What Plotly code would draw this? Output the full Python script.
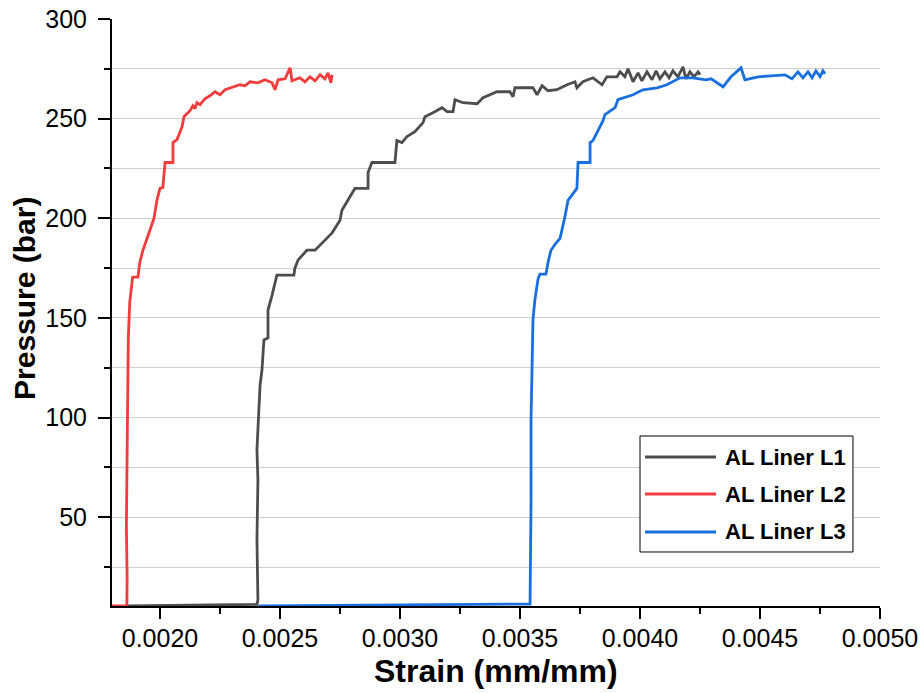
import plotly.graph_objects as go

# Pressure test curves for three aluminium liners: strain (mm/mm) vs pressure (bar)
l1_strain = [0.001860, 0.002100, 0.002404, 0.002408, 0.002404, 0.002408, 0.002404, 0.002408,
             0.002412, 0.002417, 0.002425, 0.002429, 0.002433, 0.002450, 0.002450, 0.002467,
             0.002487, 0.002558, 0.002562, 0.002575, 0.002612, 0.002646, 0.002667, 0.002696,
             0.002717, 0.002750, 0.002758, 0.002771, 0.002812, 0.002867, 0.002867, 0.002883,
             0.002979, 0.002987, 0.003008, 0.003029, 0.003062, 0.003096, 0.003104, 0.003137,
             0.003175, 0.003196, 0.003221, 0.003229, 0.003262, 0.003321, 0.003346, 0.003404,
             0.003458, 0.003471, 0.003479, 0.003554, 0.003571, 0.003592, 0.003617, 0.003654,
             0.003696, 0.003729, 0.003737, 0.003762, 0.003804, 0.003842, 0.003862, 0.003904,
             0.003917, 0.003937, 0.003950, 0.003971, 0.003992, 0.004008, 0.004029, 0.004050,
             0.004067, 0.004083, 0.004104, 0.004121, 0.004137, 0.004158, 0.004179, 0.004192,
             0.004208, 0.004225, 0.004242, 0.004250]
l1_pressure = [5.6, 5.9, 6.3, 8.5, 38.6, 68.7, 83.8, 94,
               109, 116.4, 124, 134, 139, 140, 154, 161.5,
               171.5, 171.5, 175, 179, 184, 184, 186.5, 190,
               192.7, 199, 204, 206.7, 215, 215, 223, 228,
               228, 239, 238, 241, 243.5, 248, 251, 253,
               255.5, 253.5, 253.5, 259.5, 258, 257.5, 260.5, 263.5,
               263.5, 261, 265.5, 265.5, 262, 266.5, 264, 264.5,
               267, 268.5, 265.5, 268.5, 270.5, 267, 271, 271,
               273.5, 271, 275, 268.5, 273, 269, 273.5, 269.5,
               274, 270, 273.5, 270.5, 274, 271, 276, 270,
               273.5, 271, 273.5, 272]

l2_strain = [0.001800, 0.001862, 0.001863, 0.001860, 0.001862, 0.001864, 0.001866, 0.001868,
             0.001874, 0.001886, 0.001908, 0.001916, 0.001929, 0.001950, 0.001962, 0.001975,
             0.001987, 0.002000, 0.002012, 0.002017, 0.002021, 0.002054, 0.002054, 0.002071,
             0.002092, 0.002100, 0.002112, 0.002125, 0.002137, 0.002146, 0.002154, 0.002167,
             0.002187, 0.002208, 0.002229, 0.002250, 0.002271, 0.002304, 0.002333, 0.002354,
             0.002375, 0.002408, 0.002437, 0.002467, 0.002479, 0.002492, 0.002521, 0.002542,
             0.002550, 0.002583, 0.002604, 0.002625, 0.002646, 0.002667, 0.002687, 0.002700,
             0.002712, 0.002717]
l2_pressure = [5.6, 5.6, 20, 45, 70, 95, 120, 140,
               158, 170.5, 170.5, 178, 184, 191, 196, 200,
               209, 215, 215.5, 222, 228, 228, 238, 239.5,
               246, 251, 252.5, 254, 256.5, 255, 258, 257,
               260, 261.5, 263.5, 262, 264.5, 266, 267, 266.5,
               268.5, 268, 269.5, 268, 264.5, 269.5, 270, 275.5,
               269, 270.5, 268.5, 271, 269, 272, 270, 273,
               268, 272]

l3_strain = [0.002410, 0.003000, 0.003542, 0.003542, 0.003546, 0.003546, 0.003550, 0.003554,
             0.003562, 0.003571, 0.003575, 0.003583, 0.003608, 0.003617, 0.003629, 0.003646,
             0.003667, 0.003687, 0.003700, 0.003737, 0.003742, 0.003792, 0.003792, 0.003804,
             0.003825, 0.003846, 0.003854, 0.003883, 0.003896, 0.003908, 0.003946, 0.003971,
             0.004012, 0.004071, 0.004112, 0.004167, 0.004221, 0.004275, 0.004296, 0.004346,
             0.004379, 0.004421, 0.004437, 0.004492, 0.004546, 0.004604, 0.004633, 0.004658,
             0.004679, 0.004700, 0.004717, 0.004733, 0.004750, 0.004762, 0.004771]
l3_pressure = [5.6, 5.9, 6.5, 8, 58, 99, 129, 149,
               159, 166.5, 169.5, 172, 172, 178, 184, 187,
               190, 200.7, 209, 215, 228, 228, 238, 239,
               244, 249, 252, 254.5, 255.5, 259.5, 261, 262,
               264.5, 265.5, 267, 270.5, 270.5, 269.5, 270, 266,
               271, 275.5, 269.5, 271, 271.5, 272, 270, 273.5,
               270.5, 273.5, 270.5, 274, 271, 274, 272.5]

series_names = ["AL Liner L1", "AL Liner L2", "AL Liner L3"]
series_colors = ["#4D4D4D", "#F03C3C", "#1A6FDF"]
series_data = [(l1_strain, l1_pressure), (l2_strain, l2_pressure), (l3_strain, l3_pressure)]

x_ticks = [0.0020, 0.0025, 0.0030, 0.0035, 0.0040, 0.0045, 0.0050]
x_labels = ["0.0020", "0.0025", "0.0030", "0.0035", "0.0040", "0.0045", "0.0050"]

FONT = "Liberation Sans, Arial, sans-serif"
GRID = "#D0D0D0"

fig = go.Figure()
for name, color, (xs, ys) in zip(series_names, series_colors, series_data):
    fig.add_trace(go.Scatter(x=xs, y=ys, mode="lines", name=name,
                             line=dict(color=color, width=2.8), showlegend=False))

fig.update_layout(
    width=924, height=693, autosize=False,
    margin=dict(l=112, r=44, t=19, b=87, autoexpand=False),
    paper_bgcolor="white", plot_bgcolor="white",
    font=dict(family=FONT, color="black"),
    xaxis=dict(
        range=[0.0018, 0.0050], tickmode="array", tickvals=x_ticks, ticktext=x_labels,
        ticks="outside", ticklen=11, tickwidth=2, tickcolor="black",
        minor=dict(tickmode="array",
                   tickvals=[0.00225, 0.00275, 0.00325, 0.00375, 0.00425, 0.00475],
                   ticks="outside", ticklen=6, tickwidth=2, tickcolor="black"),
        showgrid=False, zeroline=False, showline=True, linewidth=2, linecolor="black",
        tickfont=dict(size=25), ticklabelstandoff=-2, automargin=False,
    ),
    yaxis=dict(
        range=[5.5, 300], tickmode="linear", tick0=0, dtick=50,
        ticks="outside", ticklen=12, tickwidth=2, tickcolor="black",
        minor=dict(dtick=25, ticks="outside", ticklen=6, tickwidth=2, tickcolor="black",
                   showgrid=True, gridcolor=GRID, gridwidth=1),
        showgrid=True, gridcolor=GRID, gridwidth=1,
        zeroline=False, showline=True, linewidth=2, linecolor="black",
        tickfont=dict(size=25), ticklabelstandoff=6, automargin=False,
    ),
    # top frame axis: carries the vertical grid
    xaxis2=dict(
        overlaying="x", side="top", range=[0, 14], tickmode="linear", tick0=0, dtick=2,
        ticks="inside", ticklen=11, tickwidth=2, tickcolor="black",
        minor=dict(dtick=1, ticks="inside", ticklen=5, tickwidth=2, tickcolor="black",
                   showgrid=True, gridcolor=GRID, gridwidth=1),
        showgrid=True, gridcolor=GRID, gridwidth=1, showticklabels=False,
        zeroline=False, showline=True, linewidth=2, linecolor="black", automargin=False,
    ),
    # right frame axis
    yaxis2=dict(
        overlaying="y", side="right", range=[0, 12], tickmode="linear", tick0=0, dtick=2,
        ticks="inside", ticklen=12, tickwidth=2, tickcolor="black",
        minor=dict(dtick=1, ticks="inside", ticklen=6, tickwidth=2, tickcolor="black"),
        showgrid=False, showticklabels=False,
        zeroline=False, showline=True, linewidth=2, linecolor="black", automargin=False,
    ),
)

# axis titles
fig.add_annotation(text="<b>Strain (mm/mm)</b>", xref="paper", yref="paper",
                   x=0.5, y=-0.1107, xanchor="center", yanchor="middle",
                   showarrow=False, font=dict(size=32, family=FONT))
fig.add_annotation(text="<b>Pressure (bar)</b>", xref="paper", yref="paper",
                   x=-0.1146, y=0.5247, xanchor="center", yanchor="middle", textangle=-90,
                   showarrow=False, font=dict(size=30, family=FONT))

# legend box with line samples
fig.add_shape(type="rect", xref="paper", yref="paper", x0=0.6875, x1=0.9648, y0=0.092, y1=0.2896,
              line=dict(color="black", width=1), fillcolor="white", layer="above")
legend_y = [0.2538, 0.1908, 0.1261]
for name, color, ly in zip(series_names, series_colors, legend_y):
    fig.add_shape(type="line", xref="paper", yref="paper", x0=0.694, x1=0.7865, y0=ly, y1=ly,
                  line=dict(color=color, width=3), layer="above")
    fig.add_annotation(text="<b>" + name + "</b>", xref="paper", yref="paper",
                       x=0.7956, y=ly, xanchor="left", yanchor="middle", showarrow=False,
                       font=dict(size=22, family=FONT))

fig.write_html("out.html")
